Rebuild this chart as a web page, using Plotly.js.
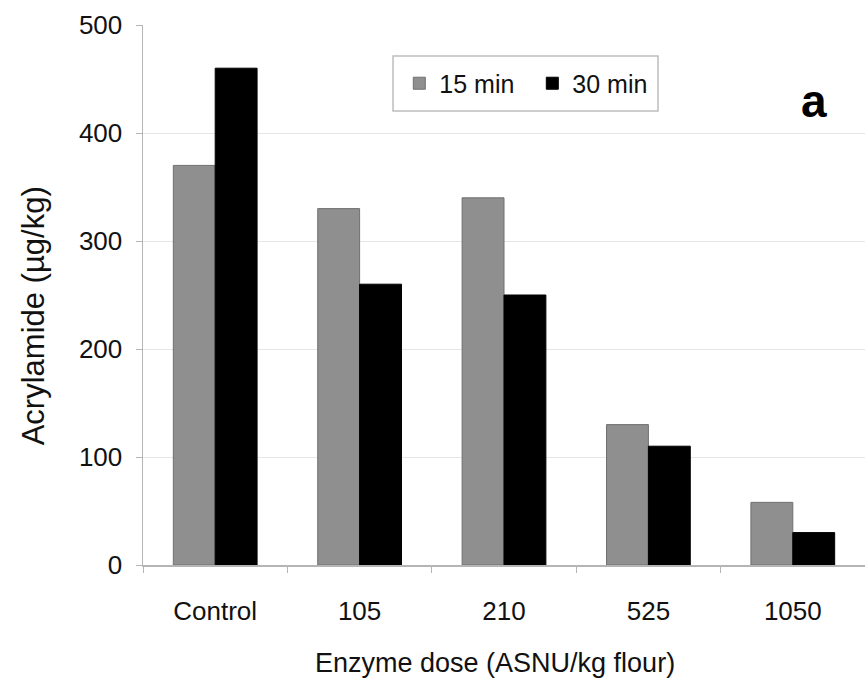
<!DOCTYPE html>
<html>
<head>
<meta charset="utf-8">
<script src="https://cdn.plot.ly/plotly-3.0.1.min.js"></script>
<style>html,body{margin:0;padding:0;background:#fff;}#chart{width:865px;height:680px;}</style>
</head>
<body>
<div id="chart"></div>
<script>
const categories = ["Control", "105", "210", "525", "1050"];
const series15 = [370, 330, 340, 130, 58];
const series30 = [460, 260, 250, 110, 30];
const seriesNames = ["15 min", "30 min"];
const yTicks = [0, 100, 200, 300, 400, 500];

const font = "Liberation Sans, Arial, sans-serif";

const data = [
  {type: "bar", x: categories, y: series15, name: seriesNames[0],
   marker: {color: "#8f8f8f", line: {color: "#707070", width: 1}}},
  {type: "bar", x: categories, y: series30, name: seriesNames[1],
   marker: {color: "#000000", line: {color: "#000000", width: 1}}}
];

const layout = {
  width: 865, height: 680,
  margin: {l: 143, r: 0, t: 25, b: 115},
  paper_bgcolor: "#fff", plot_bgcolor: "#fff",
  font: {family: font, color: "#111", size: 26},
  barmode: "group", bargap: 0.42, bargroupgap: 0,
  showlegend: true,
  legend: {orientation: "h", x: 0.355, y: 0.8917, xanchor: "left", yanchor: "middle",
           borderwidth: 0, font: {size: 25, family: font},
           traceorder: "normal", bgcolor: "rgba(0,0,0,0)", itemwidth: 30, entrywidth: 88},
  shapes: [{type: "rect", xref: "paper", yref: "paper", x0: 0.3463, x1: 0.7133, y0: 0.8407, y1: 0.9426,
            line: {color: "#bdbdbd", width: 1.5}, fillcolor: "#fff", layer: "below"}],
  xaxis: {type: "category", range: [-0.5, 4.5], showgrid: false,
          showline: true, linecolor: "#b5b5b5", linewidth: 1.5,
          ticks: "outside", ticklen: 6, tickcolor: "#b5b5b5", tickson: "boundaries",
          ticklabelstandoff: 22,
          tickfont: {size: 26, family: font}},
  yaxis: {range: [0, 500], tickvals: yTicks, showgrid: true, gridcolor: "#e6e6e6", gridwidth: 1,
          showline: true, linecolor: "#b5b5b5", linewidth: 1.5, zeroline: false,
          ticks: "outside", ticklen: 6, tickcolor: "#b5b5b5", ticklabelstandoff: 8,
          tickfont: {size: 26, family: font}},
  annotations: [
    {text: "<b>a</b>", xref: "paper", yref: "paper", x: 0.95, y: 0.86,
     yanchor: "middle", showarrow: false, font: {size: 46, family: font, color: "#000"}},
    {text: "Enzyme dose (ASNU/kg flour)", xref: "paper", yref: "paper", x: 0.4875, y: -0.1815,
     xanchor: "center", yanchor: "middle", showarrow: false, font: {size: 27, family: font, color: "#111"}},
    {text: "Acrylamide (µg/kg)", xref: "paper", yref: "paper", x: -0.152, y: 0.461, textangle: -90,
     xanchor: "center", yanchor: "middle", showarrow: false, font: {size: 31, family: font, color: "#111"}}
  ]
};

Plotly.newPlot("chart", data, layout, {staticPlot: true, displayModeBar: false});
</script>
</body>
</html>
